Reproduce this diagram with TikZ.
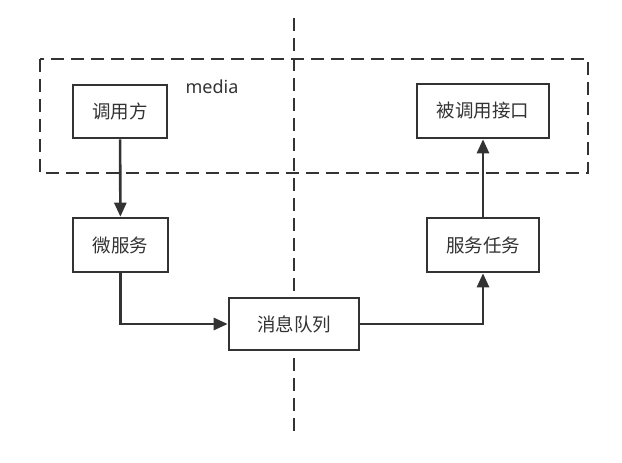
\documentclass[tikz,border=0pt]{standalone}
\usepackage{fontspec}
\setmainfont{Noto Sans}
\newfontfamily\cjk{Noto Sans CJK SC}
\usetikzlibrary{arrows.meta}
\definecolor{ink}{HTML}{333333}
\begin{document}
\begin{tikzpicture}[x=1pt,y=-1pt,
  box/.style={draw=ink,line width=2.6pt,fill=white,inner sep=0pt,font=\cjk\fontsize{18.5}{22}\selectfont,text=ink},
  conn/.style={draw=ink,line width=2.6pt,-{Triangle[length=14pt,width=12pt]}},
  dsh/.style={draw=ink,line width=2.6pt,dash pattern=on 13pt off 7pt}]
\useasboundingbox (0,0) rectangle (622,463);
\fill[white] (0,0) rectangle (622,463);
\draw[dsh] (40,59) rectangle (588,173);
\coordinate (vt) at (294,18);
\coordinate (vb) at (294,436);
\draw[dsh] (vt) -- (vb);
\node[box,minimum width=94pt,minimum height=53pt] (caller) at (120,111.5) {调用方};
\node[box,minimum width=132pt,minimum height=54pt] (callee) at (483,111) {被调用接口};
\node[box,minimum width=95pt,minimum height=54pt] (micro) at (120.5,245) {微服务};
\node[box,minimum width=130pt,minimum height=52pt] (mq) at (294,324) {消息队列};
\node[box,minimum width=112pt,minimum height=54pt] (task) at (483,245) {服务任务};
\node[font=\fontsize{18}{22}\selectfont,text=ink] (media) at (212,87) {media};
\draw[conn] (caller) -- (micro);
\draw[conn] (micro.south) |- (mq.west);
\draw[conn] (mq.east) -| (task.south);
\draw[conn] (task) -- (callee);
\end{tikzpicture}
\end{document}
